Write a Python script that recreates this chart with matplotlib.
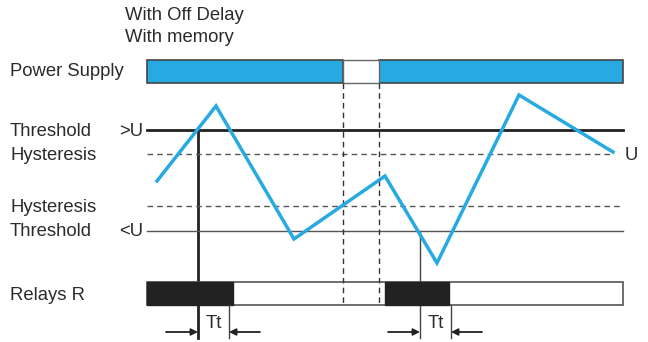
import matplotlib.pyplot as plt
from matplotlib.patches import Rectangle

plt.rcParams['font.family'] = ['Liberation Sans', 'DejaVu Sans']

# blue signal (x, y in pixel units of the drawing)
signal_x = [157, 216, 294, 385, 437, 519, 613]
signal_y = [181, 106, 239, 176, 263, 95, 152]

# level lines
thr_hi = 130
hys_hi = 154
hys_lo = 206
thr_lo = 231

# power supply bar segments (start, end)
power_on = [(147, 343), (379, 623)]
power_gap = (343, 379)
# relay on segments
relay_on = [(147, 233), (385, 449)]
# switching instants and Tt ends
switch_x = [198, 420]
tt_end_x = [229, 451]

x_left, x_right = 147, 623
text_col = '#2b2b2b'
blue = '#27a9e1'
fs = 13.3

fig = plt.figure(figsize=(6.48, 3.42), dpi=100)
ax = fig.add_axes([0, 0, 1, 1])
ax.set_xlim(0, 648)
ax.set_ylim(342, 0)
ax.axis('off')

# titles
ax.text(125, 16, 'With Off Delay', fontsize=fs, color=text_col, va='center')
ax.text(125, 38, 'With memory', fontsize=fs, color=text_col, va='center')

# power supply bar
for a, b in power_on:
    ax.add_patch(Rectangle((a, 60), b - a, 23, facecolor=blue, edgecolor='#444444', lw=1.2))
ax.add_patch(Rectangle((power_gap[0], 60), power_gap[1] - power_gap[0], 23,
                       facecolor='white', edgecolor='#666666', lw=1.0))
ax.text(10, 72, 'Power Supply', fontsize=fs, color=text_col, va='center')

# levels
ax.plot([x_left, x_right], [thr_hi, thr_hi], color='#222222', lw=2)
ax.plot([x_left, 613], [hys_hi, hys_hi], color='#555555', lw=1, ls=(0, (4, 3)))
ax.plot([x_left, x_right], [hys_lo, hys_lo], color='#555555', lw=1, ls=(0, (4, 3)))
ax.plot([x_left, x_right], [thr_lo, thr_lo], color='#555555', lw=1)

ax.text(10, thr_hi + 1, 'Threshold', fontsize=fs, color=text_col, va='center')
ax.text(143, thr_hi + 1, '>U', fontsize=fs, color=text_col, va='center', ha='right')
ax.text(10, hys_hi + 1, 'Hysteresis', fontsize=fs, color=text_col, va='center')
ax.text(10, hys_lo + 2, 'Hysteresis', fontsize=fs, color=text_col, va='center')
ax.text(10, thr_lo + 1, 'Threshold', fontsize=fs, color=text_col, va='center')
ax.text(143, thr_lo + 1, '<U', fontsize=fs, color=text_col, va='center', ha='right')
ax.text(625, hys_hi + 1, 'U', fontsize=fs, color=text_col, va='center')

# switching verticals (behind the relay bar)
ax.plot([switch_x[0]] * 2, [thr_hi, 338], color='#222222', lw=2, zorder=1)
ax.plot([switch_x[1]] * 2, [thr_lo, 338], color='#444444', lw=1, zorder=1)

# relay bar
ax.add_patch(Rectangle((x_left, 282), x_right - x_left, 23, facecolor='white',
                       edgecolor='#555555', lw=1.2, zorder=2))
for a, b in relay_on:
    ax.add_patch(Rectangle((a, 282), b - a, 23, facecolor='#222222', edgecolor='#222222',
                           lw=1, zorder=2))
ax.text(10, 295, 'Relays R', fontsize=fs, color=text_col, va='center')

# power-off dashed verticals
for xv in power_gap:
    ax.plot([xv, xv], [83, 305], color='#333333', lw=1, ls=(0, (4, 3)), zorder=3)

for xs, xe in zip(switch_x, tt_end_x):
    ax.plot([xe, xe], [305, 338], color='#444444', lw=1)
    ax.annotate('', xy=(xs, 332), xytext=(xs - 32, 332),
                arrowprops=dict(arrowstyle='-|>', color='#222222', lw=1.3, mutation_scale=10,
                                shrinkA=0, shrinkB=0))
    ax.annotate('', xy=(xe, 332), xytext=(xe + 31, 332),
                arrowprops=dict(arrowstyle='-|>', color='#222222', lw=1.3, mutation_scale=10,
                                shrinkA=0, shrinkB=0))
    ax.text((xs + xe) / 2, 323, 'Tt', fontsize=fs, color=text_col, ha='center', va='center')

# signal
ax.plot(signal_x, signal_y, color=blue, lw=2.5, solid_joinstyle='miter', zorder=4)

fig.savefig('out.png', dpi=100)
